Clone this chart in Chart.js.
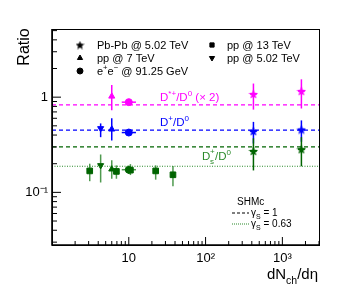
<!DOCTYPE html>
<html>
<head>
  <meta name="viewport" content="width=device-width, initial-scale=1.0">
  <title>Ratio vs dNch/deta</title>
  <script src="https://cdn.jsdelivr.net/npm/chart.js"></script>
  <style>
    html, body {
      margin: 0;
      padding: 0;
      background-color: #fff;
    }
    #wrap {
      width: 355px;
      height: 292px;
    }
  </style>
</head>
<body>
  <div id="wrap"><canvas id="myChart"></canvas></div>

  <script>
    // SHMc predictions (D*+ already multiplied by 2)
    const shmX = [1, 3000];
    const shmDstar = 0.83;
    const shmDplus = 0.45;
    const shmDsG1 = 0.30;
    const shmDsG063 = 0.188;

    // Pb-Pb @ 5.02 TeV
    const pbpbX = [420, 1770];
    const pbpbDstar = [1.08, 1.16], pbpbDstarLo = [0.74, 0.76], pbpbDstarHi = [1.39, 1.54];
    const pbpbDplus = [0.44, 0.457], pbpbDplusLo = [0.326, 0.34], pbpbDplusHi = [0.55, 0.57];
    const pbpbDs = [0.272, 0.284], pbpbDsLo = [0.17, 0.188], pbpbDsHi = [0.37, 0.38];

    // pp @ 7 TeV
    const pp7X = [6.0];
    const pp7Dstar = [1.02], pp7DstarLo = [0.73], pp7DstarHi = [1.34];
    const pp7Dplus = [0.46], pp7DplusLo = [0.35], pp7DplusHi = [0.60];
    const pp7Ds = [0.175], pp7DsLo = [0.139], pp7DsHi = [0.217];

    // pp @ 5.02 TeV
    const pp502X = [4.3];
    const pp502Dplus = [0.47], pp502DplusLo = [0.38], pp502DplusHi = [0.53];
    const pp502Ds = [0.192], pp502DsLo = [0.127], pp502DsHi = [0.25];

    // e+e- @ 91.25 GeV
    const eeX = [10], eeXLo = [8.1], eeXHi = [12.4];
    const eeDstar = [0.886];
    const eeDplus = [0.425];
    const eeDs = [0.173], eeDsLo = [0.157], eeDsHi = [0.19];

    // pp @ 13 TeV
    const pp13X = [3.1, 6.9, 10.5, 22.4, 37.6];
    const pp13Ds = [0.168, 0.166, 0.171, 0.168, 0.153];
    const pp13DsLo = [0.131, 0.139, 0.152, 0.136, 0.116];
    const pp13DsHi = [0.20, 0.192, 0.198, 0.192, 0.189];

    const xTicks = [10, 100, 1000];
    const yTicks = [0.1, 1];

    const MAG = '#ff00ff', BLUE = '#0000ff', GREEN = '#006400', GREEN_ERR = '#4f9a4f';
    const FONT = '"Liberation Sans", Arial, sans-serif';

    // filled 5-point star as a point image
    function makeStar(color, size) {
      const c = document.createElement('canvas');
      c.width = size; c.height = size;
      const g = c.getContext('2d');
      const r = size / 2, ri = r * 0.45;
      g.fillStyle = color;
      g.beginPath();
      for (let i = 0; i < 10; i++) {
        const ang = -Math.PI / 2 + i * Math.PI / 5;
        const rr = i % 2 ? ri : r;
        g.lineTo(r + rr * Math.cos(ang), r + rr * Math.sin(ang) + 0.5);
      }
      g.closePath();
      g.fill();
      return c;
    }

    function pts(xs, ys) {
      return ys.map((y, i) => ({ x: xs[i], y: y }));
    }

    function series(label, xs, ys, color, style, extra) {
      return Object.assign({
        label: label,
        data: pts(xs, ys),
        showLine: false,
        pointStyle: style,
        pointRadius: 3.5,
        pointRotation: 0,
        backgroundColor: color,
        borderColor: color,
        borderWidth: 1,
        errColor: color
      }, extra || {});
    }

    function shmLine(value, color, dash) {
      return {
        label: 'shm',
        data: pts(shmX, [value, value]),
        showLine: true,
        pointRadius: 0,
        borderColor: color,
        borderWidth: 1.2,
        borderDash: dash,
        fill: false
      };
    }

    const datasets = [
      shmLine(shmDstar, MAG, [4, 3]),
      shmLine(shmDplus, BLUE, [4, 3]),
      shmLine(shmDsG1, GREEN, [4, 3]),
      shmLine(shmDsG063, '#2a8a2a', [1, 1.5]),

      series('Pb-Pb D*', pbpbX, pbpbDstar, MAG, makeStar(MAG, 10), { yLo: pbpbDstarLo, yHi: pbpbDstarHi, xLo: [380, 1600], xHi: [465, 1960] }),
      series('Pb-Pb D+', pbpbX, pbpbDplus, BLUE, makeStar(BLUE, 10), { yLo: pbpbDplusLo, yHi: pbpbDplusHi, xLo: [380, 1600], xHi: [465, 1960] }),
      series('Pb-Pb Ds', pbpbX, pbpbDs, GREEN, makeStar(GREEN, 10), { yLo: pbpbDsLo, yHi: pbpbDsHi, xLo: [380, 1600], xHi: [465, 1960], errColor: GREEN }),

      series('pp7 D*', pp7X, pp7Dstar, MAG, 'triangle', { yLo: pp7DstarLo, yHi: pp7DstarHi }),
      series('pp7 D+', pp7X, pp7Dplus, BLUE, 'triangle', { yLo: pp7DplusLo, yHi: pp7DplusHi }),
      series('pp7 Ds', pp7X, pp7Ds, GREEN, 'triangle', { yLo: pp7DsLo, yHi: pp7DsHi, errColor: GREEN_ERR }),

      series('pp5 D+', pp502X, pp502Dplus, BLUE, 'triangle', { yLo: pp502DplusLo, yHi: pp502DplusHi, pointRotation: 180 }),
      series('pp5 Ds', pp502X, pp502Ds, GREEN, 'triangle', { yLo: pp502DsLo, yHi: pp502DsHi, pointRotation: 180, errColor: GREEN_ERR }),

      series('pp13 Ds', pp13X, pp13Ds, GREEN, 'rect', { yLo: pp13DsLo, yHi: pp13DsHi, pointRadius: 4, errColor: GREEN_ERR }),

      series('ee D*', eeX, eeDstar, MAG, 'circle', { xLo: eeXLo, xHi: eeXHi }),
      series('ee D+', eeX, eeDplus, BLUE, 'circle', { xLo: eeXLo, xHi: eeXHi }),
      series('ee Ds', eeX, eeDs, GREEN, 'circle', { xLo: eeXLo, xHi: eeXHi, yLo: eeDsLo, yHi: eeDsHi, errColor: GREEN_ERR })
    ];

    // draw text with sub/superscripts: parts = [[text, 'n'|'sup'|'sub'], ...]
    function rich(ctx, parts, x, y, size, color, align) {
      ctx.save();
      ctx.fillStyle = color;
      ctx.textBaseline = 'alphabetic';
      ctx.textAlign = 'left';
      let w = 0;
      parts.forEach(p => {
        ctx.font = (p[1] === 'n' ? size : size * 0.7) + 'px ' + FONT;
        w += ctx.measureText(p[0]).width;
      });
      let cx = align === 'right' ? x - w : x;
      parts.forEach(p => {
        const s = p[1] === 'n' ? size : size * 0.7;
        ctx.font = s + 'px ' + FONT;
        let dy = 0;
        if (p[1] === 'sup') dy = -size * 0.45;
        if (p[1] === 'sub') dy = size * 0.3;
        ctx.fillText(p[0], cx, y + dy);
        cx += ctx.measureText(p[0]).width;
      });
      ctx.restore();
    }

    const errorBars = {
      id: 'errorBars',
      beforeDatasetsDraw(chart) {
        const ctx = chart.ctx;
        const xs = chart.scales.x, ys = chart.scales.y;
        ctx.save();
        chart.data.datasets.forEach(ds => {
          ctx.strokeStyle = ds.errColor || ds.borderColor;
          ctx.lineWidth = 1.5;
          ds.data.forEach((p, i) => {
            const px = xs.getPixelForValue(p.x), py = ys.getPixelForValue(p.y);
            if (ds.yLo) {
              ctx.beginPath();
              ctx.moveTo(px, ys.getPixelForValue(ds.yLo[i]));
              ctx.lineTo(px, ys.getPixelForValue(ds.yHi[i]));
              ctx.stroke();
            }
            if (ds.xLo) {
              ctx.beginPath();
              ctx.moveTo(xs.getPixelForValue(ds.xLo[i]), py);
              ctx.lineTo(xs.getPixelForValue(ds.xHi[i]), py);
              ctx.stroke();
            }
          });
        });
        ctx.restore();
      }
    };

    const legendStar = makeStar('#000', 9);

    const frameAndText = {
      id: 'frameAndText',
      afterDraw(chart) {
        const ctx = chart.ctx;
        const a = chart.chartArea;
        const xs = chart.scales.x, ys = chart.scales.y;
        ctx.save();

        // frame
        ctx.strokeStyle = '#000';
        ctx.lineWidth = 1;
        ctx.strokeRect(a.left + 0.5, a.top + 0.5, a.right - a.left, a.bottom - a.top);
        ctx.lineWidth = 1.6;
        ctx.beginPath();
        ctx.moveTo(a.left, a.top);
        ctx.lineTo(a.left, a.bottom);
        ctx.lineTo(a.right, a.bottom);
        ctx.stroke();

        // inner ticks
        ctx.lineWidth = 1;
        ctx.beginPath();
        [0.1, 1].forEach(v => {
          const y = ys.getPixelForValue(v);
          ctx.moveTo(a.left, y); ctx.lineTo(a.left + 9, y);
        });
        [0.03, 0.04, 0.05, 0.06, 0.07, 0.08, 0.09, 0.2, 0.3, 0.4, 0.5, 0.6, 0.7, 0.8, 0.9, 2, 3, 4, 5].forEach(v => {
          const y = ys.getPixelForValue(v);
          ctx.moveTo(a.left, y); ctx.lineTo(a.left + 5, y);
        });
        [10, 100, 1000].forEach(v => {
          const x = xs.getPixelForValue(v);
          ctx.moveTo(x, a.bottom); ctx.lineTo(x, a.bottom - 8);
        });
        [2, 3, 4, 5, 6, 7, 8, 9, 20, 30, 40, 50, 60, 70, 80, 90, 200, 300, 400, 500, 600, 700, 800, 900, 2000, 3000].forEach(v => {
          const x = xs.getPixelForValue(v);
          ctx.moveTo(x, a.bottom); ctx.lineTo(x, a.bottom - 4);
        });
        ctx.stroke();

        // axis titles
        ctx.save();
        ctx.translate(29, 47);
        ctx.rotate(-Math.PI / 2);
        ctx.fillStyle = '#000';
        ctx.font = '16px ' + FONT;
        ctx.textAlign = 'center';
        ctx.fillText('Ratio', 0, 0);
        ctx.restore();
        rich(ctx, [['dN', 'n'], ['ch', 'sub'], ['/d\u03b7', 'n']], 318, 279, 15, '#000', 'right');

        // ratio labels
        rich(ctx, [['D', 'n'], ['*+', 'sup'], ['/D', 'n'], ['0', 'sup'], [' (\u00d7 2)', 'n']], 160, 101, 11.5, MAG);
        rich(ctx, [['D', 'n'], ['+', 'sup'], ['/D', 'n'], ['0', 'sup']], 160, 126, 11.5, BLUE);
        ctx.save();
        ctx.fillStyle = '#2a8a2a';
        rich(ctx, [['D', 'n']], 202, 160, 11.5, '#2a8a2a');
        ctx.font = '8px ' + FONT;
        ctx.fillText('+', 210, 154);
        ctx.fillText('s', 210, 164);
        ctx.restore();
        rich(ctx, [['/D', 'n'], ['0', 'sup']], 215, 160, 11.5, '#2a8a2a');

        // data legend
        const H = Chart.helpers;
        const legendRows = [
          [legendStar, 0, 80, 45, 'Pb-Pb @ 5.02 TeV', 97],
          ['triangle', 0, 80, 58, 'pp @ 7 TeV', 97],
          ['circle', 0, 80, 71, null, 97],
          ['rect', 0, 212, 45, 'pp @ 13 TeV', 227],
          ['triangle', 180, 212, 58, 'pp @ 5.02 TeV', 227]
        ];
        legendRows.forEach(r => {
          ctx.fillStyle = '#000';
          ctx.strokeStyle = '#000';
          H.drawPoint(ctx, { pointStyle: r[0], rotation: r[1], radius: 3, borderWidth: 1 }, r[2], r[3]);
          if (r[4]) rich(ctx, [[r[4], 'n']], r[5], r[3] + 4, 11, '#000');
        });
        rich(ctx, [['e', 'n'], ['+', 'sup'], ['e', 'n'], ['\u2212', 'sup'], [' @ 91.25 GeV', 'n']], 97, 75, 11, '#000');

        // SHMc legend
        rich(ctx, [['SHMc', 'n']], 237, 205, 10, '#000');
        ctx.lineWidth = 1.2;
        ctx.strokeStyle = '#000';
        ctx.setLineDash([3, 2]);
        ctx.beginPath(); ctx.moveTo(232, 213); ctx.lineTo(249, 213); ctx.stroke();
        ctx.strokeStyle = '#2a8a2a';
        ctx.setLineDash([1, 1]);
        ctx.beginPath(); ctx.moveTo(232, 224); ctx.lineTo(249, 224); ctx.stroke();
        ctx.setLineDash([]);
        rich(ctx, [['\u03b3', 'n'], ['S', 'sub'], [' = 1', 'n']], 251, 216, 10, '#000');
        rich(ctx, [['\u03b3', 'n'], ['S', 'sub'], [' = 0.63', 'n']], 251, 227, 10, '#000');

        ctx.restore();
      }
    };

    const ctx = document.getElementById('myChart').getContext('2d');
    const chart = new Chart(ctx, {
      type: 'scatter',
      data: { datasets: datasets },
      options: {
        responsive: true,
        maintainAspectRatio: false,
        animation: false,
        layout: { padding: { top: 29, right: 36, left: 0, bottom: 0 } },
        plugins: {
          legend: { display: false },
          tooltip: { enabled: false }
        },
        scales: {
          x: {
            type: 'logarithmic',
            min: 1,
            max: 3000,
            grid: { display: false, drawTicks: false },
            border: { display: false },
            afterBuildTicks: s => { s.ticks = xTicks.map(v => ({ value: v })); },
            afterFit: s => { s.height = 47; },
            ticks: {
              padding: 6,
              maxRotation: 0,
              color: '#000',
              font: { family: FONT, size: 13 },
              callback: v => ({ 10: '10', 100: '10\u00b2', 1000: '10\u00b3' }[v] || '')
            }
          },
          y: {
            type: 'logarithmic',
            min: 0.028,
            max: 5.2,
            grid: { display: false, drawTicks: false },
            border: { display: false },
            afterBuildTicks: s => { s.ticks = yTicks.map(v => ({ value: v })); },
            afterFit: s => { s.width = 52; },
            ticks: {
              padding: 4,
              color: '#000',
              font: { family: FONT, size: 13 },
              callback: v => ({ 0.1: '10\u207b\u00b9', 1: '1' }[v] || '')
            }
          }
        }
      },
      plugins: [errorBars, frameAndText]
    });
  </script>
</body>
</html>
